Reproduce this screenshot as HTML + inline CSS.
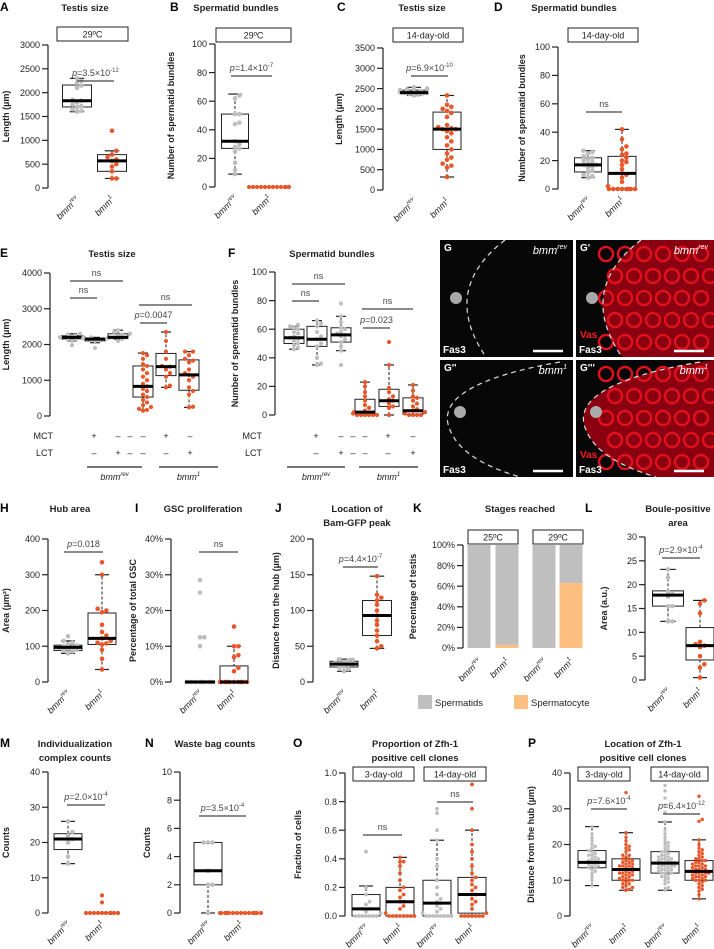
<!DOCTYPE html>
<html><head><meta charset="utf-8"><style>
html,body{margin:0;padding:0;background:#fff;}
svg{display:block;font-family:"Liberation Sans",Arial,sans-serif;}
</style></head><body>
<svg id="fig" width="714" height="949" viewBox="0 0 714 949" xmlns="http://www.w3.org/2000/svg"></svg>
<script>
// ---------- DATA ----------
const aTicks=[0,500,1000,1500,2000,2500,3000];
const aBoxRev=[1600,1700,1830,2160,2300];
const aPtsRev=[1600,1620,1650,1700,1720,1750,1800,1830,1850,2100,2150,2200,2250,2300];
const aBoxBmm=[200,350,570,700,780];
const aPtsBmm=[200,200,350,450,500,570,600,650,700,780,1200];

const bTicks=[0,20,40,60,80,100];
const bBoxRev=[9,27,32,51,65];
const bPtsRev=[9,12,17,25,27,28,30,32,44,45,51,51,62,64];
const bBoxBmm=null;
const bPtsBmm=[0,0,0,0,0,0,0,0,0,0,0,0];

const cTicks=[0,500,1000,1500,2000,2500,3000,3500];
const cBoxRev=[2330,2370,2400,2460,2530];
const cPtsRev=[2330,2350,2370,2380,2390,2400,2400,2410,2420,2440,2460,2480,2500,2530,2390,2410];
const cBoxBmm=[320,1000,1500,1920,2330];
const cPtsBmm=[320,550,600,650,750,800,900,1000,1100,1200,1300,1400,1450,1500,1500,1520,1550,1600,1800,1900,1950,2000,2050,2100,2330];

const dTicks=[0,20,40,60,80,100];
const dBoxRev=[8,12,17,22,27];
const dPtsRev=[8,9,10,12,13,15,16,17,17,18,19,20,21,22,23,25,26,27];
const dBoxBmm=[0,0,11,23,42];
const dPtsBmm=[0,0,0,0,0,0,0,0,2,5,8,10,11,14,17,19,20,22,24,25,28,30,35,42];

const eTicks=[0,1000,2000,3000,4000];
const eBoxes=[[2100,2150,2200,2250,2300],[2050,2100,2150,2180,2200],[2150,2180,2200,2300,2400],[170,530,830,1400,1760],[800,1130,1380,1750,2350],[240,720,1150,1570,1800]];
const ePts=[[1980,2100,2150,2180,2200,2200,2220,2250,2280,2300,2150,2200],[1900,2100,2120,2150,2150,2170,2180,2200,2130],[2100,2150,2200,2200,2250,2300,2350,2400,2200,2280],[150,170,200,300,380,450,530,600,700,760,830,900,1000,1100,1200,1300,1400,1450,1600,1760,1700,250],[800,850,1100,1200,1300,1380,1400,1600,1800,2100,2350],[240,260,600,700,800,1000,1100,1150,1200,1300,1500,1600,1700,1800,1800,1550]];
const fTicks=[0,20,40,60,80,100];
const fBoxes=[[46,50,54,60,62],[35,48,53,62,66],[45,51,56,61,69],[0,0.5,2,11,23],[0,6,10,18,35],[0,0.5,3,12,21]];
const fPts=[[46,47,50,52,54,55,57,58,60,61,62,63,49,53],[35,36,40,48,50,53,55,58,62,64,66],[35,45,48,51,53,55,56,57,58,60,61,65,69,78],[0,0,0,0,0,0,1,2,3,5,7,10,13,16,20,23],[0,5,6,8,10,11,13,16,19,35,51],[0,0,0,0,1,2,3,4,6,8,10,12,13,17,21]];
const mctRow=['+','–','–','–','+','–'];
const lctRow=['–','+','–','–','–','+'];

const hTicks=[0,100,200,300,400];
const hBoxRev=[80,88,97,103,115];
const hPtsRev=[80,85,88,90,93,95,97,100,102,105,110,115,128];
const hBoxBmm=[35,105,122,193,300];
const hPtsBmm=[35,65,90,105,108,110,115,122,130,140,160,195,200,205,300,335];

const iTicks=[0,10,20,30,40];
const iBoxRev=[0,0,0,0,0];
const iPtsRev=[0,0,0,0,0,0,0,0,0,0,0,0,10,12.5,12.5,25,28.5];
const iBoxBmm=[0,0,0,4.5,10];
const iPtsBmm=[0,0,0,0,0,0,0,0,0,0,3,4,7,7.5,10,10,15.5];

const jTicks=[0,50,100,150,200];
const jBoxRev=[15,21,25,29,32];
const jPtsRev=[15,18,20,22,24,25,26,27,28,30,31,32];
const jBoxBmm=[47,65,93,114,148];
const jPtsBmm=[47,50,57,65,72,80,86,93,100,108,114,118,122,148];

const kTicks=[0,20,40,60,80,100];
const kCats=['rev25','bmm25','rev29','bmm29'];
const kSpermatids=[100,97,100,37];
const kSpermatocyte=[0,3,0,63];

const lTicks=[0,5,10,15,20,25,30];
const lBoxRev=[12.3,15.5,17.8,18.7,23.2];
const lPtsRev=[12.3,12.3,15.5,15.5,17.5,18,18.5,21.5,23.2];
const lBoxBmm=[0.5,4.2,7.2,11,16.7];
const lPtsBmm=[0.5,2.6,3.3,5,6.9,7.2,7.5,8,14,16,16.7];

const mTicks=[0,10,20,30,40];
const mBoxRev=[14,18,21,22.5,26];
const mPtsRev=[14,16,20,21,22,23,26];
const mPtsBmm=[0,0,0,0,0,0,0,0,0,0,0,3,5];

const nTicks=[0,2,4,6,8,10];
const nBoxRev=[0,2,3,5,5];
const nPtsRev=[0,2,2,3,5,5,5];
const nPtsBmm=[0,0,0,0,0,0,0,0,0,0,0,0,0,0];

const oTicks=[0,0.2,0.4,0.6,0.8,1.0];
const oBoxes=[[0,0,0.05,0.15,0.21],[0,0,0.1,0.2,0.41],[0,0,0.09,0.25,0.53],[0,0.02,0.15,0.27,0.6]];
const oPts=[[0,0,0,0,0,0,0,0.02,0.03,0.05,0.05,0.08,0.1,0.15,0.2,0.45],[0,0,0,0,0,0,0,0,0.02,0.05,0.07,0.1,0.1,0.13,0.15,0.18,0.2,0.25,0.3,0.35,0.38,0.38,0.41],[0,0,0,0,0,0,0,0,0.02,0.03,0.05,0.07,0.09,0.1,0.12,0.15,0.2,0.25,0.35,0.4,0.53,0.6,0.72,0.75],[0,0,0,0,0,0,0,0.02,0.05,0.08,0.1,0.12,0.15,0.15,0.18,0.2,0.22,0.25,0.27,0.3,0.35,0.4,0.45,0.5,0.6,0.75,0.92]];

const pTicks=[0,10,20,30,40];
const pBoxes=[[8.5,13.5,15,18.3,25],[7.2,10,13,16,23.3],[7.2,12,14.8,18,26.3],[4.8,10,12.5,15.5,21.3]];
const pPts=[
[8.5,10,11,12,12.5,13,13.5,13.5,14,14,14.5,14.5,15,15,15,15.5,15.5,16,16,16.5,17,17,17.5,18,18.3,19,19.5,20,21,22,23,25],
[7.2,7.5,8,8,8.5,9,9,9.5,10,10,10,10.5,10.5,11,11,11.5,11.5,12,12,12,12.5,12.5,13,13,13,13,13.5,13.5,14,14,14,14.5,14.5,15,15,15.5,15.5,16,16,16.5,17,17,18,18.5,19,19.5,20,21,22,23.3,34.5],
[7.2,8,9,9.5,10,10.5,11,11,11.5,12,12,12,12.5,12.5,13,13,13,13.5,13.5,14,14,14,14,14.5,14.5,14.8,15,15,15,15,15.5,15.5,16,16,16,16.5,16.5,17,17,17.5,18,18,18.5,19,19.5,20,20.5,21,22,23,24,26.3,29,31,33,35,36.5],
[4.8,6,7,7.5,8,8.5,9,9.5,10,10,10,10.5,10.5,11,11,11,11.5,11.5,12,12,12,12,12.5,12.5,12.5,13,13,13,13.5,13.5,14,14,14,14.5,14.5,15,15,15.5,15.5,16,16,16.5,17,17.5,18,18.5,19,20,21.3,26.5,27,33.5]];

// ---------- DRAWING ----------
const NS='http://www.w3.org/2000/svg';
const svg=document.getElementById('fig');
const GREY='#bdbdbd', ORANGE='#e8572a';
function mk(tag,attrs,parent){const e=document.createElementNS(NS,tag);for(const k in attrs)e.setAttribute(k,attrs[k]);(parent||svg).appendChild(e);return e;}
function txt(x,y,s,size,opts,parent){opts=opts||{};const t=mk('text',{x:x,y:y,'font-size':size,'text-anchor':opts.anchor||'middle',fill:opts.fill||'#222','font-weight':opts.bold?'bold':'normal','font-style':opts.italic?'italic':'normal'},parent);if(opts.rot!==undefined)t.setAttribute('transform','rotate('+opts.rot+' '+x+' '+y+')');t.textContent=s;return t;}
function scale(vmin,vmax,pb,pt){return v=>pb+(v-vmin)/(vmax-vmin)*(pt-pb);}

function axis(name,x,pb,pt,vmin,vmax,ticks,fmt,title,titleX){
  const g=mk('g',{});
  
  
  const y=scale(vmin,vmax,pb,pt);
  mk('line',{x1:x,x2:x,y1:pb,y2:y(ticks[ticks.length-1]),stroke:'#222','stroke-width':1.2},g);
  ticks.forEach(v=>{mk('line',{x1:x-6,x2:x,y1:y(v),y2:y(v),stroke:'#222','stroke-width':1.2},g);
    const t=txt(x-8,y(v)+3.2,fmt(v),9,{anchor:'end'},g);
    
    });
  const tt=txt(titleX,(pb+pt)/2,title,9,{bold:true,rot:-90},g);
  
  
  return y;
}
function swarm(vals,y,r,cx,maxHalf){
  const sorted=vals.slice().sort((a,b)=>a-b);const placed=[];
  sorted.forEach(v=>{const py=y(v);let best=null;
    for(let k=0;k<60;k++){const off=(k%2?1:-1)*Math.ceil(k/2)*r*1.9;if(Math.abs(off)>maxHalf)continue;
      if(placed.every(p=>Math.hypot(p[0]-(cx+off),p[1]-py)>=r*1.8)){best=off;break;}}
    if(best===null)best=((placed.length*7)%Math.round(maxHalf*2))-maxHalf;
    placed.push([cx+best,py]);});
  return placed;
}
function boxplot(name,y,cx,w,st,pts,col,r,maxHalf){
  const g=mk('g',{});
  
  
  if(st){
    mk('line',{x1:cx,x2:cx,y1:y(st[0]),y2:y(st[4]),stroke:'#222','stroke-width':1,'stroke-dasharray':'3,2'},g);
    mk('line',{x1:cx-w*0.25,x2:cx+w*0.25,y1:y(st[0]),y2:y(st[0]),stroke:'#222','stroke-width':1.2},g);
    mk('line',{x1:cx-w*0.25,x2:cx+w*0.25,y1:y(st[4]),y2:y(st[4]),stroke:'#222','stroke-width':1.2},g);
    mk('rect',{x:cx-w/2,y:y(st[3]),width:w,height:Math.max(0.1,y(st[1])-y(st[3])),fill:'#fff',stroke:'#222','stroke-width':1},g);
  }
  swarm(pts,y,r,cx,maxHalf||w/2).forEach(p=>{const c=mk('circle',{cx:p[0],cy:p[1],r:r,fill:col},g);
    
    });
  if(st)mk('line',{x1:cx-w/2,x2:cx+w/2,y1:y(st[2]),y2:y(st[2]),stroke:'#000','stroke-width':3},g);
}
function xlabel(cx,y,sup){const t=mk('text',{x:cx+3,y:y,'font-size':9,'text-anchor':'end','font-style':'italic',fill:'#222',transform:'rotate(-45 '+(cx+3)+' '+y+')'});
  
  
  t.appendChild(document.createTextNode('bmm'));const s=mk('tspan',{'font-size':6,dy:-4},t);s.textContent=sup;}
function sig(x1,x2,yl,label,exp){mk('line',{x1:x1,x2:x2,y1:yl,y2:yl,stroke:'#444','stroke-width':1.2});
  const t=mk('text',{x:(x1+x2)/2,y:yl-5,'font-size':9,'text-anchor':'middle',fill:'#444'});
  
  
  if(label==='ns'){t.textContent='ns';return;}
  const p=mk('tspan',{'font-style':'italic'},t);p.textContent='p';
  const r=mk('tspan',{},t);r.textContent='='+label;
  if(exp){const e=mk('tspan',{'font-size':6,dy:-4},t);e.textContent=exp;}}
function condbox(x1,x2,y1,label){const g=mk('g',{});
  
  
  mk('rect',{x:x1,y:y1,width:x2-x1,height:14,fill:'#fff',stroke:'#222','stroke-width':1},g);txt((x1+x2)/2,y1+10.5,label,9,{},g);}
function header(letter,lx,ly,lines,tx){const a=txt(lx,ly+4,letter,12,{anchor:'start',bold:true,fill:'#000'});
  
  
  lines.forEach((s,i)=>{const t=txt(tx,ly+4+i*14,s,9.5,{bold:true,fill:'#222'});
  
  });}
const num=v=>String(v);
const pct=v=>v+'%';

// A
header('A',0,7,['Testis size'],85);
let y=axis('panel-a',48,188,45,0,3000,aTicks,num,'Length (µm)',9);
condbox(57,128,27,'29ºC');
boxplot('box-a-rev',y,77,29,aBoxRev,aPtsRev,GREY,2.3);
boxplot('box-a-bmm',y,112,29,aBoxBmm,aPtsBmm,ORANGE,2.3);
sig(77,114,81,'3.5×10','-12');
xlabel(77,200,'rev');xlabel(112,200,'1');
// B
header('B',170,7,['Spermatid bundles'],236);
y=axis('panel-b',215,187,44,0,100,bTicks,num,'Number of spermatid bundles',174);
condbox(216,291,28,'29ºC');
boxplot('box-b-rev',y,235,27,bBoxRev,bPtsRev,GREY,2.3);
boxplot('box-b-bmm',y,269,27,bBoxBmm,bPtsBmm,ORANGE,2.1,20);
sig(231,272,76,'1.4×10','-7');
xlabel(235,199,'rev');xlabel(269,199,'1');
// C
header('C',337,7,['Testis size'],422);
y=axis('panel-c',383,190,48,0,3500,cTicks,num,'Length (µm)',342);
condbox(393,463,28,'14-day-old');
boxplot('box-c-rev',y,414,28,cBoxRev,cPtsRev,GREY,2.3);
boxplot('box-c-bmm',y,447,28,cBoxBmm,cPtsBmm,ORANGE,2.3);
sig(411,448,76,'6.9×10','-10');
xlabel(414,202,'rev');xlabel(447,202,'1');
// D
header('D',494,7,['Spermatid bundles'],574);
y=axis('panel-d',558,189,47,0,100,dTicks,num,'Number of spermatid bundles',525);
condbox(568,638,28,'14-day-old');
boxplot('box-d-rev',y,588,27,dBoxRev,dPtsRev,GREY,2.3);
boxplot('box-d-bmm',y,622,28,dBoxBmm,dPtsBmm,ORANGE,2.3);
sig(586,622,112,'ns');
xlabel(588,201,'rev');xlabel(622,201,'1');

function treat(xs,lx,g1,g2,lineY){
  txt(lx,439,'MCT',9,{anchor:'end'});txt(lx,456,'LCT',9,{anchor:'end'});
  xs.forEach((x,i)=>{txt(x,439,mctRow[i],9,{});txt(x,456,lctRow[i],9,{});});
  mk('line',{x1:g1[0],x2:g1[1],y1:lineY,y2:lineY,stroke:'#222','stroke-width':1.2});
  mk('line',{x1:g2[0],x2:g2[1],y1:lineY,y2:lineY,stroke:'#222','stroke-width':1.2});
  [[g1,'rev'],[g2,'1']].forEach(a=>{const t=mk('text',{x:(a[0][0]+a[0][1])/2,y:lineY+13,'font-size':9,'text-anchor':'middle','font-style':'italic',fill:'#222'});
    
    
    t.appendChild(document.createTextNode('bmm'));const s=mk('tspan',{'font-size':6,dy:-4},t);s.textContent=a[1];});
}
// E
header('E',0,253,['Testis size'],112);
y=axis('panel-e',50,416,273,0,4000,eTicks,num,'Length (µm)',9);
const eX=[72,95,118,143,166,189];
eBoxes.forEach((b,i)=>boxplot('box-e-'+i,y,eX[i],20,b,ePts[i],i<3?GREY:ORANGE,2.1,12));
sig(70,123,281,'ns');sig(70,97,298,'ns');sig(139,192,305,'ns');sig(140,167,323,'0.0047');
treat([94,118,130,143,166,190],53,[87,142],[159,218],467);
// F
header('F',228,253,['Spermatid bundles'],332);
y=axis('panel-f',275,415,272,0,100,fTicks,num,'Number of spermatid bundles',238);
const fX=[294,317,341,365,389,413];
fBoxes.forEach((b,i)=>boxplot('box-f-'+i,y,fX[i],20,b,fPts[i],i<3?GREY:ORANGE,2.1,12));
sig(292,345,284,'ns');sig(292,319,301,'ns');sig(362,413,309,'ns');sig(363,390,328,'0.023');
treat([316,341,353,365,388,413],262,[287,345],[359,418],467);

// G microscopy
function micro(x,y0,w,h,red,label,sup,curve,hub){
  const g=mk('g',{});
  
  
  mk('rect',{x:x,y:y0,width:w,height:h,fill:'#070707'},g);
  if(red){const p=mk('path',{d:curve+' L '+(x+w)+' '+(y0+h)+' L '+(x+w)+' '+y0+' Z',fill:'#8a0010'},g);
    for(let i=0;i<6;i++)for(let j=0;j<5;j++){mk('circle',{cx:x+30+i*19+(j%2)*9,cy:y0+14+j*22,r:7,fill:'none',stroke:'#e0101c','stroke-width':2.5},g);}
    txt(x+4,y0+h-19,'Vas',10,{anchor:'start',bold:true,fill:'#ff1a1a'},g);}
  mk('path',{d:curve,fill:'none',stroke:'#ddd','stroke-width':1.2,'stroke-dasharray':'5,4'},g);
  mk('circle',{cx:hub[0],cy:hub[1],r:6,fill:'#aaa'},g);
  mk('line',{x1:x+w-40,x2:x+w-10,y1:y0+h-6,y2:y0+h-6,stroke:'#fff','stroke-width':2.5},g);
  txt(x+3,y0+h-4,'Fas3',10,{anchor:'start',bold:true,fill:'#fff'},g);
  txt(x+4,y0+11,label,10,{anchor:'start',bold:true,fill:'#fff'},g);
  const t=mk('text',{x:x+w-6,y:y0+14,'font-size':11,'text-anchor':'end','font-style':'italic',fill:'#fff'},g);
  t.appendChild(document.createTextNode('bmm'));const s=mk('tspan',{'font-size':7,dy:-5},t);s.textContent=sup;
}
micro(440,240,133,117,false,'G','rev','M 505 240 Q 440 290 486 357',[456,298]);
micro(576,240,138,117,true,"G'",'rev','M 641 240 Q 576 290 622 357',[592,298]);
micro(440,360,133,117,false,"G''",'1','M 560 362 Q 430 385 450 430 Q 462 460 520 477',[460,412]);
micro(576,360,138,117,true,"G'''",'1','M 700 362 Q 566 385 586 430 Q 598 460 656 477',[596,412]);

// H
header('H',0,508,['Hub area'],70);
y=axis('panel-h',48,682,539,0,400,hTicks,num,'Area (µm²)',9);
boxplot('box-h-rev',y,68,28,hBoxRev,hPtsRev,GREY,2.3);
boxplot('box-h-bmm',y,102,28,hBoxBmm,hPtsBmm,ORANGE,2.3);
sig(64,103,552,'0.018');
xlabel(68,694,'rev');xlabel(102,694,'1');
// I
header('I',135,508,['GSC proliferation'],203);
y=axis('panel-i',171,682,539,0,40,iTicks,pct,'Percentage of total GSC',136);
boxplot('box-i-rev',y,200,30,iBoxRev,iPtsRev,GREY,2.3);
boxplot('box-i-bmm',y,234,28,iBoxBmm,iPtsBmm,ORANGE,2.3);
sig(199,238,552,'ns');
xlabel(200,694,'rev');xlabel(234,694,'1');
// J
header('J',275,508,['Location of','Bam-GFP peak'],357);
y=axis('panel-j',313,682,539,0,200,jTicks,num,'Distance from the hub (µm)',279);
boxplot('box-j-rev',y,344,28,jBoxRev,jPtsRev,GREY,2.3);
boxplot('box-j-bmm',y,377,29,jBoxBmm,jPtsBmm,ORANGE,2.3);
sig(343,378,567,'4.4×10','-7');
xlabel(344,694,'rev');xlabel(377,694,'1');
// K
header('K',413,508,['Stages reached'],520);
y=axis('panel-k',463,648,545,0,100,kTicks,pct,'Percentage of testis',416);
const kX=[479,507,544,571];
condbox(468,518,530,'25ºC');condbox(533,583,530,'29ºC');
kCats.forEach((c,i)=>{
  const b1=mk('rect',{x:kX[i]-11.5,y:y(kSpermatocyte[i]+kSpermatids[i]),width:23,height:y(kSpermatocyte[i])-y(kSpermatocyte[i]+kSpermatids[i]),fill:'#bfbfbf'});
  
  
  const b2=mk('rect',{x:kX[i]-11.5,y:y(kSpermatocyte[i]),width:23,height:y(0)-y(kSpermatocyte[i]),fill:'#fdbf80'});
  
  
  xlabel(kX[i],662,i%2?'1':'rev');});
const lg1=mk('rect',{x:418,y:695,width:14,height:14,fill:'#bfbfbf'});


txt(435,706,'Spermatids',9.5,{anchor:'start'});
const lg2=mk('rect',{x:514,y:695,width:14,height:14,fill:'#fdbf80'});


txt(531,706,'Spermatocyte',9.5,{anchor:'start'});
// L
header('L',585,508,['Boule-positive','area'],678);
y=axis('panel-l',645,680,537,0,30,lTicks,num,'Area (a.u.)',607);
boxplot('box-l-rev',y,668,31,lBoxRev,lPtsRev,GREY,2.3);
boxplot('box-l-bmm',y,700,28,lBoxBmm,lPtsBmm,ORANGE,2.3);
sig(662,700,558,'2.9×10','-4');
xlabel(668,692,'rev');xlabel(700,692,'1');
// M
header('M',0,743,['Individualization','complex counts'],75);
y=axis('panel-m',48,913,772,0,40,mTicks,num,'Counts',9);
boxplot('box-m-rev',y,68,28,mBoxRev,mPtsRev,GREY,2.3);
boxplot('box-m-bmm',y,102,28,null,mPtsBmm,ORANGE,2.1,18);
sig(67,105,805,'2.0×10','-4');
xlabel(68,925,'rev');xlabel(102,925,'1');
// N
header('N',145,743,['Waste bag counts'],215);
y=axis('panel-n',180,913,772,0,10,nTicks,num,'Counts',150);
boxplot('box-n-rev',y,208,28,nBoxRev,nPtsRev,GREY,2.3);
boxplot('box-n-bmm',y,241,28,null,nPtsBmm,ORANGE,2.1,21);
sig(199,246,816,'3.5×10','-4');
xlabel(208,925,'rev');xlabel(241,925,'1');
// O
header('O',293,743,['Proportion of Zfh-1','positive cell clones'],415);
y=axis('panel-o',345,916,773,0,1,oTicks,v=>v.toFixed(1),'Fraction of cells',301);
condbox(353,414,767,'3-day-old');condbox(424,486,767,'14-day-old');
const oX=[366,400,437,472];
oBoxes.forEach((b,i)=>boxplot('box-o-'+i,y,oX[i],28,b,oPts[i],i%2?ORANGE:GREY,1.9,16));
sig(363,402,835,'ns');sig(437,473,802,'ns');
oX.forEach((x,i)=>xlabel(x,928,i%2?'1':'rev'));
// P
header('P',528,743,['Location of Zfh-1','positive cell clones'],643);
y=axis('panel-p',570,916,773,0,40,pTicks,num,'Distance from the hub (µm)',534);
condbox(578,630,767,'3-day-old');condbox(651,708,767,'14-day-old');
const pX=[592,626,665,699];
pBoxes.forEach((b,i)=>boxplot('box-p-'+i,y,pX[i],28,b,pPts[i],i%2?ORANGE:GREY,1.7,15));
sig(591,627,809,'7.6×10','-4');sig(663,700,814,'6.4×10','-12');
pX.forEach((x,i)=>xlabel(x,928,i%2?'1':'rev'));
</script>
</body></html>
